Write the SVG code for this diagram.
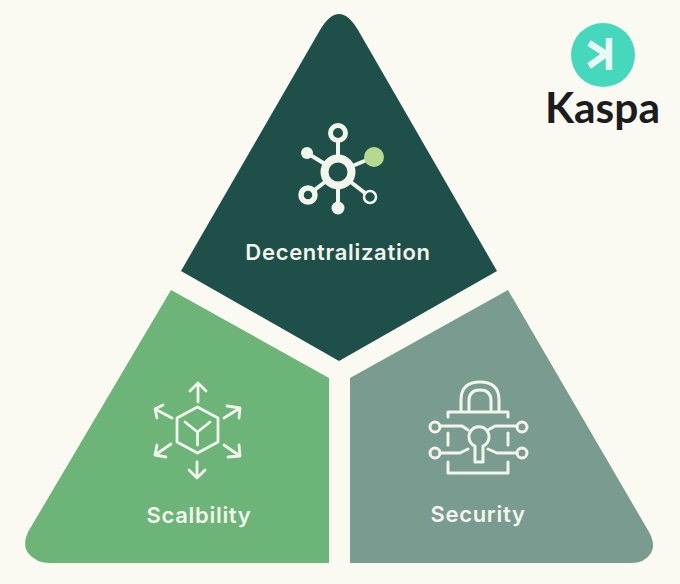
<svg xmlns="http://www.w3.org/2000/svg" width="680" height="584" viewBox="0 0 680 584">
<style>
.lbl{font-family:"Inter","Liberation Sans",sans-serif;font-weight:600;font-size:22px;fill:#f2f5ec;text-anchor:middle;letter-spacing:.7px}
.ic{fill:none;stroke:#f2f5ec;stroke-linecap:round;stroke-linejoin:round}
.f{fill:#f2f5ec}
</style>
<rect width="680" height="584" fill="#fbfaf2"/>
<g id="decentralization">
<path d="M320 30Q339 -2 358 30L497 271L339 361L181 271Z" fill="#1f4f49"/>
<g class="ic" stroke-width="4">
<path d="M338 172V140M338 172L307 153M338 172L374 157M338 172L308 195M338 172L370 197M338 172V208"/>
<circle cx="338" cy="172" r="13.500" stroke-width="8" fill="#1f4f49"/>
<circle cx="338" cy="133" r="7.500" stroke-width="5" fill="#1f4f49"/>
<circle cx="308" cy="195" r="7" stroke-width="5.500" fill="#1f4f49"/>
<circle cx="370" cy="197" r="6" stroke-width="2.500" fill="#1f4f49"/>
</g>
<circle class="f" cx="307" cy="153" r="6"/>
<circle class="f" cx="338" cy="208" r="6.500"/>
<circle cx="374" cy="157" r="10" fill="#b5d98e"/>
<text class="lbl" x="338" y="260">Decentralization</text>
</g>
<g id="scalability">
<path d="M171 290L329 378V563H50Q36 563 28 553Q22 545 28 532Z" fill="#6cb477"/>
<g class="ic" stroke-width="2.800">
<path d="M197.500 407L218 418V442L197.500 453L177 442V418ZM197.500 432V445M197.500 432L185 422M197.500 432L210 422"/>
<path d="M198 402V383M190 391L198 383L206 391M197 462V478M189 470L197 478L205 470M224 418L240 408M227 406L240 408L239 418M224 445L240 456M239 445L240 456L228 457M172 418L155 409M163 405L155 409L157 418M171 444L155 455M157 445L155 455L166 457"/>
</g>
<text class="lbl" x="199" y="523">Scalbility</text>
</g>
<g id="security">
<path d="M508 290L350 378V563H631Q645 563 651 553Q656 545 649 532Z" fill="#7a9b90"/>
<g class="ic" stroke-width="3">
<path d="M461 410V400Q461 382 480 382Q499 382 499 400V410M469 410V401Q469 390 480 390Q491 390 491 401V410"/>
<path d="M448 417V412H508V417M448 433V445M508 433V445M448 462V473H508V462"/>
<path d="M440 426H462L468 430M517 426H495L488 430M440 453H460L468 449M517 453H497L488 449"/>
<circle cx="435" cy="427" r="5"/><circle cx="522" cy="427" r="5"/><circle cx="435" cy="453" r="5"/><circle cx="522" cy="453" r="5"/>
<path d="M475 446A10 10 0 1 1 483 446V462H475Z"/>
</g>
<text class="lbl" x="478" y="522">Security</text>
</g>
<g id="kaspa-logo">
<circle cx="603" cy="55" r="32" fill="#45d8bd"/>
<path d="M609 38V70M606 54L589 43M606 54L589 66" fill="none" stroke="#e8faf1" stroke-width="6.500"/>
<text x="602.500" y="123" font-family="Lato,'Liberation Sans',sans-serif" font-weight="700" font-size="42.500" fill="#1c1c1c" text-anchor="middle">Kaspa</text>
</g>
</svg>
